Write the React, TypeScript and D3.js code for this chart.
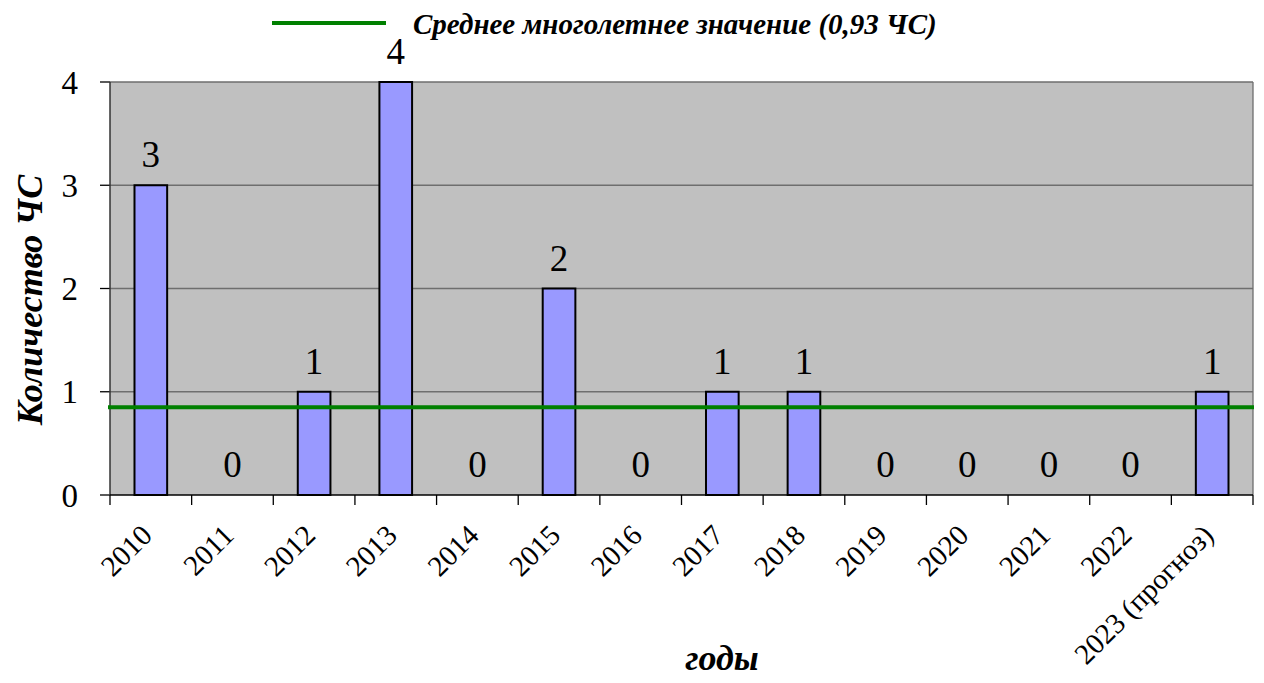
import React from "react";
import * as d3 from "d3";

const categories = ["2010","2011","2012","2013","2014","2015","2016","2017","2018","2019","2020","2021","2022","2023 (прогноз)"];
const values = [3,0,1,4,0,2,0,1,1,0,0,0,0,1];
const yTicks = [0,1,2,3,4];
const meanLevel = 0.85;
const legendLabel = "Среднее многолетнее значение (0,93 ЧС)";
const yTitle = "Количество ЧС";
const xTitle = "годы";

const W = 1264, H = 683;
const L = 110, R = 1253, T = 82, B = 495;
const serif = "Liberation Serif, Times New Roman, Times, serif";
const base: React.CSSProperties = { fontFamily: serif };
const bi: React.CSSProperties = { fontFamily: serif, fontStyle: "italic", fontWeight: 700 };

export default function App() {
  const x = d3.scaleBand<string>().domain(categories).range([L, R]).paddingInner(0.6).paddingOuter(0.3);
  const xb = d3.scaleBand<string>().domain(categories).range([L, R]);
  const y = d3.scaleLinear().domain([0, 4]).range([B, T]);
  return (
    <svg width={W} height={H} style={{ position: "absolute", left: 0, top: 0 }}>
      <rect x={L} y={T} width={R - L} height={B - T} fill="#C0C0C0" />
      {yTicks.map((t) => (
        <g key={t}>
          {t > 0 && <line x1={L} x2={R} y1={y(t)} y2={y(t)} stroke="#6e6e6e" strokeWidth={1.3} />}
          <line x1={L - 10} x2={L} y1={y(t)} y2={y(t)} stroke="#000" strokeWidth={1.3} />
          <text x={78} y={y(t)} dy="0.35em" textAnchor="end" fontSize={33} style={base}>{t}</text>
        </g>
      ))}
      <line x1={R} x2={R} y1={T} y2={B} stroke="#6e6e6e" strokeWidth={1.3} />
      {categories.map((c, i) => (
        <g key={c}>
          {values[i] > 0 && (
            <rect x={x(c)} y={y(values[i])} width={x.bandwidth()} height={B - y(values[i])} fill="#9999FF" stroke="#000" strokeWidth={2} />
          )}
          <text x={(xb(c) as number) + xb.bandwidth() / 2} y={y(values[i]) - 18} textAnchor="middle" fontSize={37} style={base}>{values[i]}</text>
        </g>
      ))}
      <line x1={L} x2={L} y1={T} y2={B} stroke="#333" strokeWidth={1.5} />
      <line x1={L} x2={R} y1={B} y2={B} stroke="#000" strokeWidth={1.5} />
      {categories.concat([""]).map((c, i) => {
        const xx = L + i * xb.step();
        return <line key={"t" + i} x1={xx} x2={xx} y1={B} y2={B + 10} stroke="#000" strokeWidth={1.3} />;
      })}
      {categories.map((c) => {
        const cx = (xb(c) as number) + xb.bandwidth() / 2 + 3;
        return (
          <text key={"l" + c} transform={`translate(${cx},${B + 42}) rotate(-45)`} textAnchor="end" fontSize={29} style={base}>{c}</text>
        );
      })}
      <line x1={L - 2} x2={R + 1} y1={y(meanLevel)} y2={y(meanLevel)} stroke="#008000" strokeWidth={4} />
      <line x1={272} x2={386} y1={23} y2={23} stroke="#008000" strokeWidth={4} />
      <text x={413} y={34} fontSize={29} style={bi}>{legendLabel}</text>
      <text transform={`translate(42,300) rotate(-90)`} textAnchor="middle" fontSize={36} style={bi}>{yTitle}</text>
      <text x={722} y={670} textAnchor="middle" fontSize={36} style={bi}>{xTitle}</text>
    </svg>
  );
}
